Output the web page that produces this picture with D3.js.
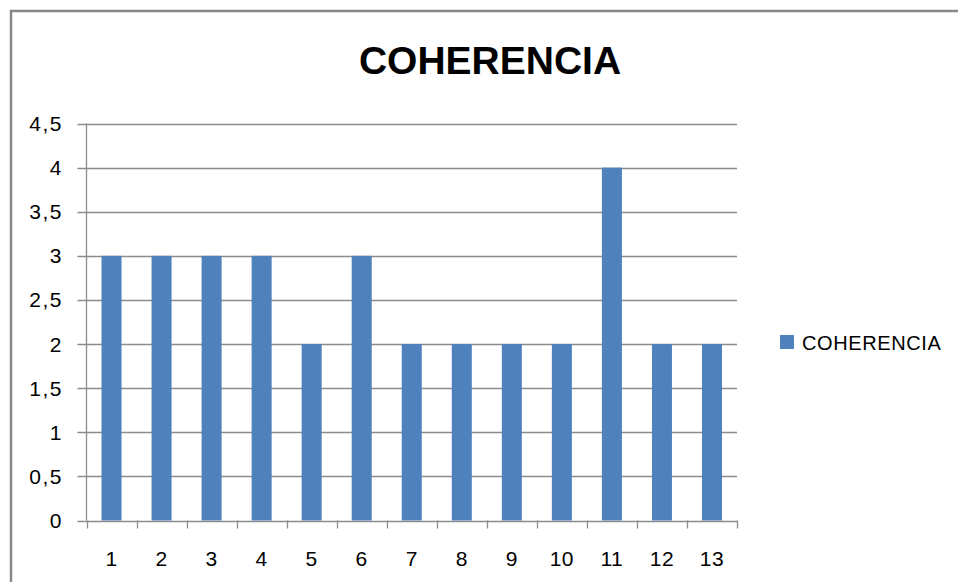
<!DOCTYPE html>
<html><head><meta charset="utf-8">
<script src="https://cdn.jsdelivr.net/npm/d3@7"></script>
<style>body{margin:0;background:#fff}svg{display:block}</style>
</head><body>
<svg id="c" width="958" height="582"></svg>
<script>
const categories = ["1","2","3","4","5","6","7","8","9","10","11","12","13"];
const values = [3,3,3,3,2,3,2,2,2,2,4,2,2];
const yTicks = [0,0.5,1,1.5,2,2.5,3,3.5,4,4.5];
const seriesName = "COHERENCIA";
const title = "COHERENCIA";

(function(){
const svg = d3.select("#c");
const font = "'Liberation Sans', Arial, sans-serif";
const pL = 86.5, pR = 737, pT = 123.5, pB = 520.5;

svg.append("rect").attr("x",11).attr("y",11).attr("width",1000).attr("height",1000)
  .attr("fill","#fff").attr("stroke","#888").attr("stroke-width",2.5);

const x = d3.scaleBand().domain(categories).range([pL,pR]).paddingInner(0.6).paddingOuter(0.3);
const y = d3.scaleLinear().domain([0,4.5]).range([pB,pT]);

// gridlines
svg.append("g").selectAll("line").data(yTicks).join("line")
  .attr("x1",pL-9).attr("x2",pR).attr("y1",d=>Math.round(y(d))+0.5).attr("y2",d=>Math.round(y(d))+0.5)
  .attr("stroke","#8c8c8c").attr("stroke-width",1.3);

// bars
svg.append("g").selectAll("rect").data(values).join("rect")
  .attr("x",(d,i)=>x(categories[i])).attr("width",x.bandwidth())
  .attr("y",d=>y(d)).attr("height",d=>y(0)-y(d))
  .attr("fill","#4F81BD");

// y axis line
svg.append("line").attr("x1",pL).attr("x2",pL).attr("y1",pT).attr("y2",pB)
  .attr("stroke","#8c8c8c").attr("stroke-width",1.3);

// x axis ticks (category boundaries)
const step = (pR-pL)/categories.length;
const bounds = d3.range(categories.length+1).map(i=>pL+i*step);
svg.append("g").selectAll("line").data(bounds).join("line")
  .attr("x1",d=>Math.round(d)+0.5).attr("x2",d=>Math.round(d)+0.5)
  .attr("y1",pB).attr("y2",pB+8)
  .attr("stroke","#8c8c8c").attr("stroke-width",1.3);

// y labels
svg.append("g").selectAll("text").data(yTicks).join("text")
  .attr("x",63).attr("y",d=>y(d)+7.5)
  .attr("text-anchor","end").attr("font-family",font).attr("font-size",21)
  .attr("letter-spacing",1.5).attr("fill","#000")
  .text(d=>String(d).replace(".",","));

// x labels
svg.append("g").selectAll("text").data(categories).join("text")
  .attr("x",d=>x(d)+x.bandwidth()/2).attr("y",566)
  .attr("text-anchor","middle").attr("font-family",font).attr("font-size",21)
  .attr("letter-spacing",0.5).attr("fill","#000").text(d=>d);

// title
svg.append("text").attr("x",490).attr("y",74).attr("text-anchor","middle")
  .attr("font-family",font).attr("font-weight","bold").attr("font-size",39)
  .attr("fill","#000").text(title);

// legend
svg.append("rect").attr("x",780).attr("y",335).attr("width",14).attr("height",14).attr("fill","#4F81BD");
svg.append("text").attr("x",802).attr("y",349.5).attr("font-family",font).attr("font-size",20)
  .attr("letter-spacing",0.6).attr("fill","#000").text(seriesName);
})();
</script>
</body></html>
